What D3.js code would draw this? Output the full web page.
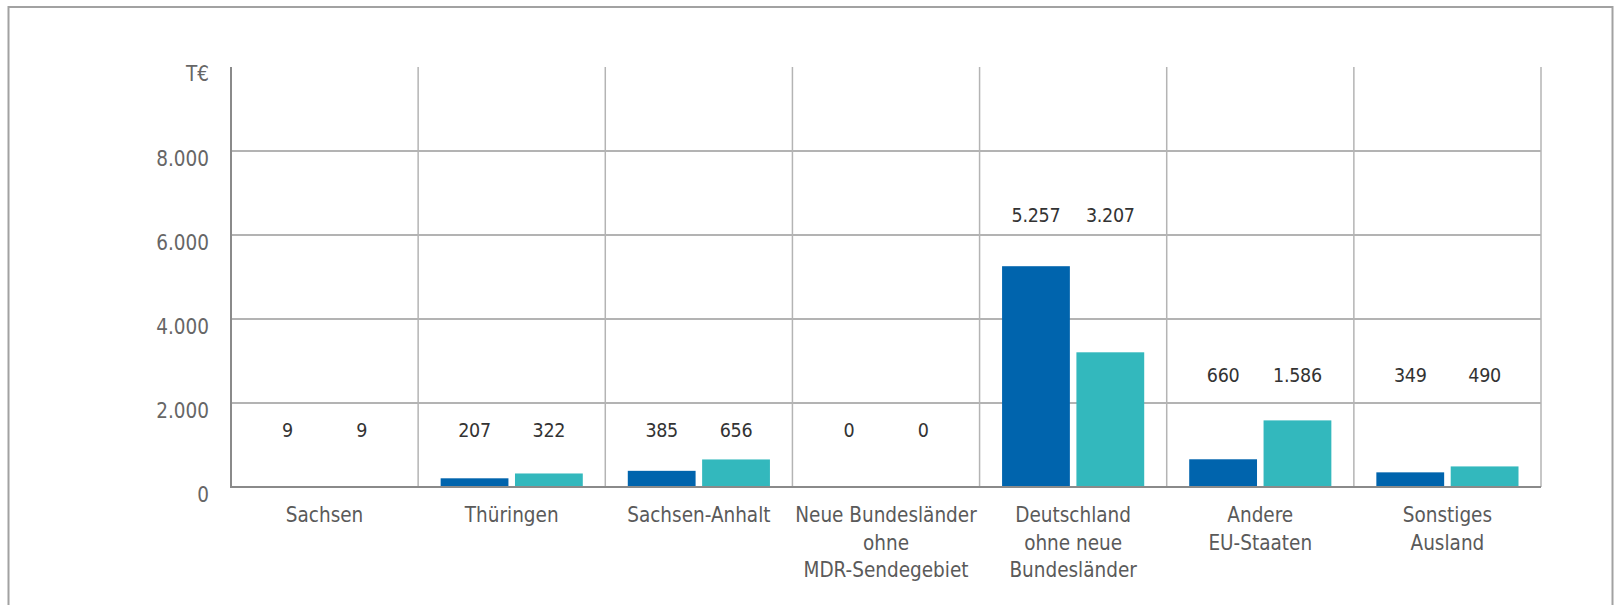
<!DOCTYPE html>
<html>
<head>
<meta charset="utf-8">
<script src="https://cdn.jsdelivr.net/npm/d3@7"></script>
<style>
  body { margin: 0; background: #fff; }
  svg text { font-family: "Liberation Sans Narrow", "DejaVu Sans Condensed", "Noto Sans", sans-serif; }
</style>
</head>
<body>
<svg id="chart" width="1614" height="605"></svg>
<script>
// categories (label lines)
var categories = [
  ["Sachsen"],
  ["Thüringen"],
  ["Sachsen-Anhalt"],
  ["Neue Bundesländer", "ohne", "MDR-Sendegebiet"],
  ["Deutschland", "ohne neue", "Bundesländer"],
  ["Andere", "EU-Staaten"],
  ["Sonstiges", "Ausland"]
];
var seriesA = [9, 207, 385, 0, 5257, 660, 349];
var seriesB = [9, 322, 656, 0, 3207, 1586, 490];
// height (in T€) at which the value labels sit
var labelLevel = [1200, 1200, 1200, 1200, 6300, 2500, 2500];
var yTicks = [0, 2000, 4000, 6000, 8000];
var unitLabel = "T€";

var svg = d3.select("#chart"),
  width = +svg.attr("width"),
  height = +svg.attr("height");
var margin = { top: 67, right: 73, bottom: 118, left: 231 };

var colors = ["#0064ad", "#33b8bd"];

// frame
svg.append("rect")
  .attr("x", 8.5).attr("y", 7)
  .attr("width", 1604).attr("height", 640)
  .attr("fill", "none")
  .attr("stroke", "#a2a2a2")
  .attr("stroke-width", 2);

var x = d3.scaleBand()
  .domain(d3.range(categories.length))
  .range([margin.left, width - margin.right]);

var x1 = d3.scaleBand()
  .domain([0, 1])
  .range([22.5, x.bandwidth() - 22.5])
  .paddingInner(0.088);

var y = d3.scaleLinear()
  .domain([0, 10000])
  .range([height - margin.bottom, margin.top]);

var fmt = function (v) { return d3.format(",")(v).replace(/,/g, "."); };

// horizontal grid
svg.append("g")
  .selectAll("line")
  .data(yTicks.slice(1))
  .enter().append("line")
  .attr("x1", margin.left).attr("x2", width - margin.right)
  .attr("y1", function (d) { return y(d); })
  .attr("y2", function (d) { return y(d); })
  .attr("stroke", "#9a9a9a")
  .attr("stroke-width", 1.5);

// vertical separators
svg.append("g")
  .selectAll("line")
  .data(d3.range(1, categories.length + 1))
  .enter().append("line")
  .attr("x1", function (d) { return d === categories.length ? width - margin.right : x(d); })
  .attr("x2", function (d) { return d === categories.length ? width - margin.right : x(d); })
  .attr("y1", y(10000)).attr("y2", y(0))
  .attr("stroke", "#b4b4b4")
  .attr("stroke-width", 1.5);

// bars
var groups = svg.append("g")
  .selectAll("g")
  .data(categories.map(function (c, i) { return { i: i, vals: [seriesA[i], seriesB[i]] }; }))
  .enter().append("g")
  .attr("transform", function (d) { return "translate(" + x(d.i) + ",0)"; });

groups.selectAll("rect")
  .data(function (d) { return d.vals.map(function (v, k) { return { k: k, v: v }; }); })
  .enter().append("rect")
  .attr("x", function (d) { return x1(d.k); })
  .attr("width", x1.bandwidth())
  .attr("y", function (d) { return y(d.v); })
  .attr("height", function (d) { return y(0) - y(d.v); })
  .attr("fill", function (d) { return colors[d.k]; });

// value labels
groups.selectAll("text.val")
  .data(function (d) { return d.vals.map(function (v, k) { return { k: k, v: v, lvl: labelLevel[d.i] }; }); })
  .enter().append("text")
  .attr("class", "val")
  .attr("x", function (d) { return x1(d.k) + x1.bandwidth() / 2; })
  .attr("y", function (d) { return y(d.lvl); })
  .attr("text-anchor", "middle")
  .attr("font-size", 19.5)
  .attr("letter-spacing", -0.3)
  .attr("fill", "#333")
  .text(function (d) { return fmt(d.v); });

// category labels
groups.append("text")
  .attr("x", x.bandwidth() / 2)
  .attr("y", y(0) + 35)
  .attr("text-anchor", "middle")
  .attr("font-size", 20.5)
  .attr("fill", "#5a5a5a")
  .selectAll("tspan")
  .data(function (d) { return categories[d.i]; })
  .enter().append("tspan")
  .attr("x", x.bandwidth() / 2)
  .attr("dy", function (d, i) { return i === 0 ? 0 : 27.5; })
  .text(function (d) { return d; });

// y axis line + baseline
svg.append("line")
  .attr("x1", margin.left).attr("x2", margin.left)
  .attr("y1", y(10000)).attr("y2", y(0) + 1)
  .attr("stroke", "#8a8a8a").attr("stroke-width", 2);
svg.append("line")
  .attr("x1", margin.left).attr("x2", width - margin.right)
  .attr("y1", y(0)).attr("y2", y(0))
  .attr("stroke", "#8a8a8a").attr("stroke-width", 2);

// tick labels
svg.append("g")
  .selectAll("text")
  .data(yTicks)
  .enter().append("text")
  .attr("x", margin.left - 22)
  .attr("y", function (d) { return y(d) + 15; })
  .attr("text-anchor", "end")
  .attr("font-size", 20.5)
  .attr("fill", "#666")
  .text(fmt);

svg.append("text")
  .attr("x", margin.left - 22)
  .attr("y", y(10000) + 14)
  .attr("text-anchor", "end")
  .attr("font-size", 20.5)
  .attr("fill", "#666")
  .text(unitLabel);
</script>
</body>
</html>
